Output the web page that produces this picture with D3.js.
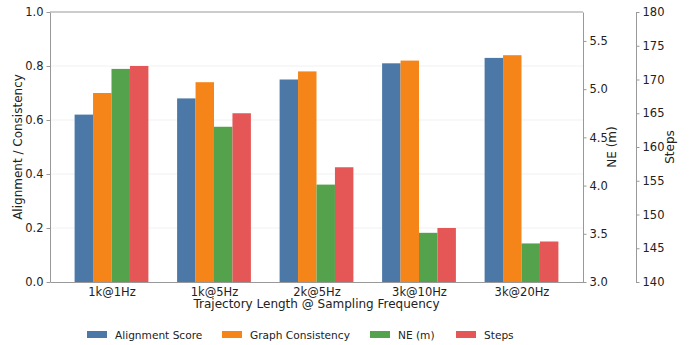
<!DOCTYPE html>
<html>
<head>
<meta charset="utf-8">
<script src="https://cdn.jsdelivr.net/npm/d3@7"></script>
<style>
  html, body { margin: 0; padding: 0; background: #fff; overflow: hidden; }
  svg { display: block; }
  text { font-family: "DejaVu Sans", sans-serif; fill: #222; }
</style>
</head>
<body>
<div id="plot"></div>
<script>
// Data
const categories = ["1k@1Hz", "1k@5Hz", "2k@5Hz", "3k@10Hz", "3k@20Hz"];
const alignment = [0.62, 0.68, 0.75, 0.81, 0.83];
const consistency = [0.70, 0.74, 0.78, 0.82, 0.84];
const ne = [5.21, 4.61, 4.01, 3.51, 3.40];
const steps = [172, 165, 157, 148, 146];
const seriesNames = ["Alignment Score", "Graph Consistency", "NE (m)", "Steps"];
const colors = ["#4c78a8", "#f58518", "#54a24b", "#e45756"];
const leftTicks = [0, 0.2, 0.4, 0.6, 0.8, 1.0];
const neTicks = [3.0, 3.5, 4.0, 4.5, 5.0, 5.5];
const stepTicks = [140, 145, 150, 155, 160, 165, 170, 175, 180];

// Parameters
const svg_w = 689;
const svg_h = 345;
const margin = {top: 12, right: 106, bottom: 63, left: 50};
const innerWidth = svg_w - margin.left - margin.right;
const innerHeight = svg_h - margin.top - margin.bottom;
const barW = 0.18;
const axisColor = "#999";

const svg = d3.select("div#plot")
  .append("svg")
    .attr("width", svg_w)
    .attr("height", svg_h);

const xScale = d3.scaleLinear().domain([-0.6, categories.length - 0.4]).range([0, innerWidth]);
const yLeft = d3.scaleLinear().domain([0, 1.0]).range([innerHeight, 0]);
const yNE = d3.scaleLinear().domain([3.0, 5.8]).range([innerHeight, 0]);
const ySteps = d3.scaleLinear().domain([140, 180]).range([innerHeight, 0]);

const g = svg.append("g")
  .attr("transform", `translate(${margin.left}, ${margin.top})`);

// grid
g.append("g")
  .selectAll("line")
  .data(leftTicks.slice(1, -1))
  .join("line")
    .attr("x1", 0)
    .attr("x2", innerWidth)
    .attr("y1", d => yLeft(d))
    .attr("y2", d => yLeft(d))
    .attr("stroke", "#eee")
    .attr("stroke-width", 0.8);

// bars: each series on its own scale
const series = [
  {vals: alignment, scale: yLeft},
  {vals: consistency, scale: yLeft},
  {vals: ne, scale: yNE},
  {vals: steps, scale: ySteps}
];

series.forEach((s, si) => {
  g.append("g")
    .selectAll("rect")
    .data(s.vals)
    .join("rect")
      .attr("x", (d, i) => xScale(i + (si - 2) * barW))
      .attr("width", xScale(barW) - xScale(0))
      .attr("y", d => s.scale(d))
      .attr("height", d => innerHeight - s.scale(d))
      .attr("fill", colors[si]);
});

function styleAxis(sel) {
  sel.selectAll(".domain").attr("stroke", axisColor);
  sel.selectAll(".tick line").attr("stroke", axisColor);
  sel.selectAll(".tick text")
    .style("font-family", "DejaVu Sans, sans-serif")
    .style("font-size", "11.5px")
    .attr("fill", "#222");
}

// x axis
g.append("g")
  .attr("transform", `translate(0, ${innerHeight})`)
  .call(d3.axisBottom(xScale).tickValues(d3.range(categories.length))
        .tickFormat(i => categories[i]).tickSize(0).tickPadding(6))
  .call(styleAxis);

// top spine
g.append("line")
  .attr("x1", 0).attr("x2", innerWidth)
  .attr("y1", 0).attr("y2", 0)
  .attr("stroke", axisColor);

// left axis
g.append("g")
  .call(d3.axisLeft(yLeft).tickValues(leftTicks).tickFormat(d3.format(".1f"))
        .tickSize(3.5).tickSizeOuter(0))
  .call(styleAxis);

// NE axis
g.append("g")
  .attr("transform", `translate(${innerWidth}, 0)`)
  .call(d3.axisRight(yNE).tickValues(neTicks).tickFormat(d3.format(".1f"))
        .tickSize(3.5).tickSizeOuter(0))
  .call(styleAxis);

// Steps axis
g.append("g")
  .attr("transform", `translate(${innerWidth + 53}, 0)`)
  .call(d3.axisRight(ySteps).tickValues(stepTicks).tickFormat(d3.format("d"))
        .tickSize(3.5).tickSizeOuter(0))
  .call(styleAxis);

// axis labels
svg.append("text")
  .attr("transform", `translate(22, ${margin.top + innerHeight / 2}) rotate(-90)`)
  .attr("text-anchor", "middle")
  .style("font-size", "12px")
  .text("Alignment / Consistency");

svg.append("text")
  .attr("transform", `translate(616, ${margin.top + innerHeight / 2}) rotate(-90)`)
  .attr("text-anchor", "middle")
  .style("font-size", "12px")
  .text("NE (m)");

svg.append("text")
  .attr("transform", `translate(674, ${margin.top + innerHeight / 2}) rotate(-90)`)
  .attr("text-anchor", "middle")
  .style("font-size", "12px")
  .text("Steps");

svg.append("text")
  .attr("x", margin.left + innerWidth / 2)
  .attr("y", 308)
  .attr("text-anchor", "middle")
  .style("font-size", "12px")
  .text("Trajectory Length @ Sampling Frequency");

// legend
const legendX = [87, 222, 370, 456];
const legend = svg.append("g");
seriesNames.forEach((name, i) => {
  legend.append("rect")
    .attr("x", legendX[i])
    .attr("y", 331)
    .attr("width", 20)
    .attr("height", 7)
    .attr("fill", colors[i]);
  legend.append("text")
    .attr("x", legendX[i] + 28)
    .attr("y", 338.5)
    .style("font-size", "10.6px")
    .text(name);
});
</script>
</body>
</html>
